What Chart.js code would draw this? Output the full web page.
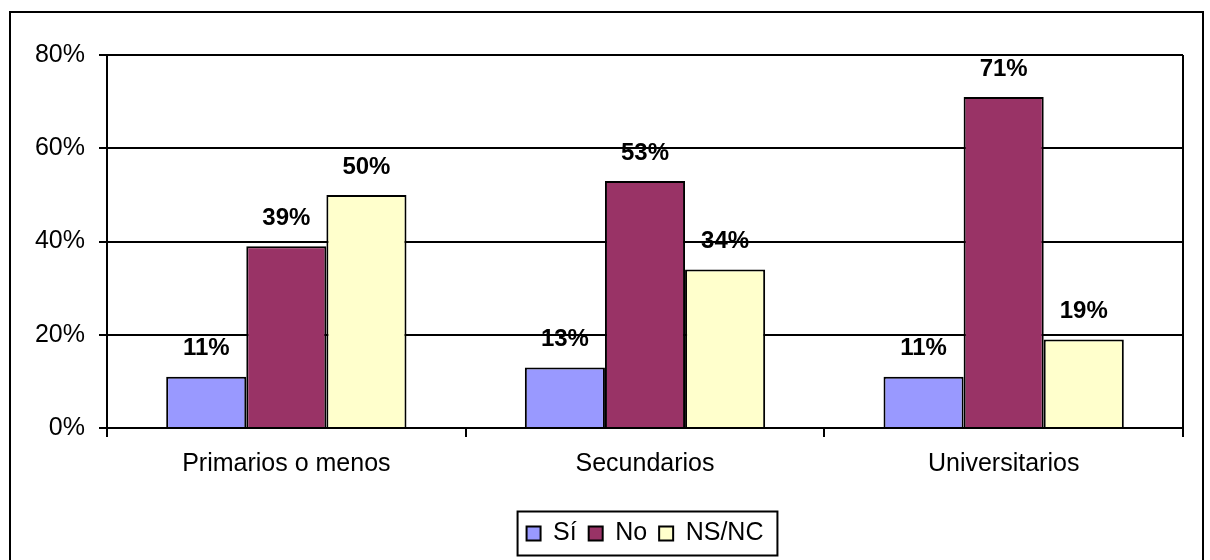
<!DOCTYPE html>
<html>
<head>
<meta charset="utf-8">
<script src="https://cdn.jsdelivr.net/npm/chart.js@4"></script>
<style>
  html, body { margin: 0; padding: 0; background: #fff; }
  #wrap { width: 1210px; height: 560px; }
</style>
</head>
<body>
<div id="wrap"><canvas id="graficoEstudios" width="1210" height="560"></canvas></div>
<script>
const categorias = ["Primarios o menos", "Secundarios", "Universitarios"];
const si = [11, 13, 11];
const no = [39, 53, 71];
const nsnc = [50, 34, 19];
const ticksY = [0, 20, 40, 60, 80];

const fuente = "'Liberation Sans', Arial, sans-serif";

// marco exterior, borde derecho del area, etiquetas de valores y caja de leyenda
const extras = {
  id: "extras",
  afterDraw(chart) {
    const c = chart.ctx;
    const a = chart.chartArea;
    c.save();
    c.strokeStyle = "#000";
    c.lineWidth = 2;
    c.strokeRect(10, 12, 1193, 552);
    c.beginPath();
    c.moveTo(a.right, a.top);
    c.lineTo(a.right, a.bottom);
    c.stroke();

    c.font = "bold 24px " + fuente;
    c.fillStyle = "#000";
    c.textAlign = "center";
    c.textBaseline = "middle";
    chart.data.datasets.forEach((ds, i) => {
      chart.getDatasetMeta(i).data.forEach((bar, j) => {
        c.fillText(ds.data[j] + "%", bar.x, bar.y - 28);
      });
    });

    const cajas = chart.legend.legendHitBoxes;
    if (cajas && cajas.length) {
      const izq = cajas[0].left - 9;
      const der = cajas[cajas.length - 1].left + cajas[cajas.length - 1].width + 14;
      const arr = cajas[0].top + cajas[0].height / 2 - 22;
      c.lineWidth = 2;
      c.strokeRect(izq, arr, der - izq, 44);
    }
    c.restore();
  }
};

new Chart(document.querySelector("#graficoEstudios"), {
  type: "bar",
  data: {
    labels: categorias,
    datasets: [
      { label: "Sí", data: si, backgroundColor: "#9999FF" },
      { label: "No", data: no, backgroundColor: "#993366" },
      { label: "NS/NC", data: nsnc, backgroundColor: "#FFFFCC" }
    ].map(d => Object.assign(d, { borderColor: "#000", borderWidth: 2, categoryPercentage: 0.67, barPercentage: 1 }))
  },
  options: {
    responsive: false,
    animation: false,
    layout: { padding: { left: 0, top: 55, right: 27, bottom: 4 } },
    plugins: {
      tooltip: { enabled: false },
      legend: {
        position: "bottom",
        fullSize: false,
        labels: {
          color: "#000",
          font: { family: fuente, size: 25 },
          boxWidth: 14,
          boxHeight: 14,
          padding: 12
        }
      }
    },
    scales: {
      x: {
        grid: { drawOnChartArea: false, color: "#000", lineWidth: 2, tickLength: 9 },
        border: { color: "#000", width: 2 },
        ticks: { color: "#000", font: { family: fuente, size: 25 }, padding: 12 },
        afterFit(s) { s.height = 81; }
      },
      y: {
        min: 0,
        max: 80,
        afterBuildTicks(s) { s.ticks = ticksY.map(v => ({ value: v })); },
        grid: { color: "#000", lineWidth: 2, tickLength: 8 },
        border: { color: "#000", width: 2 },
        ticks: { color: "#000", font: { family: fuente, size: 25 }, padding: 14, callback: v => v + "%" },
        afterFit(s) { s.width = 107; }
      }
    }
  },
  plugins: [extras]
});
</script>
</body>
</html>
